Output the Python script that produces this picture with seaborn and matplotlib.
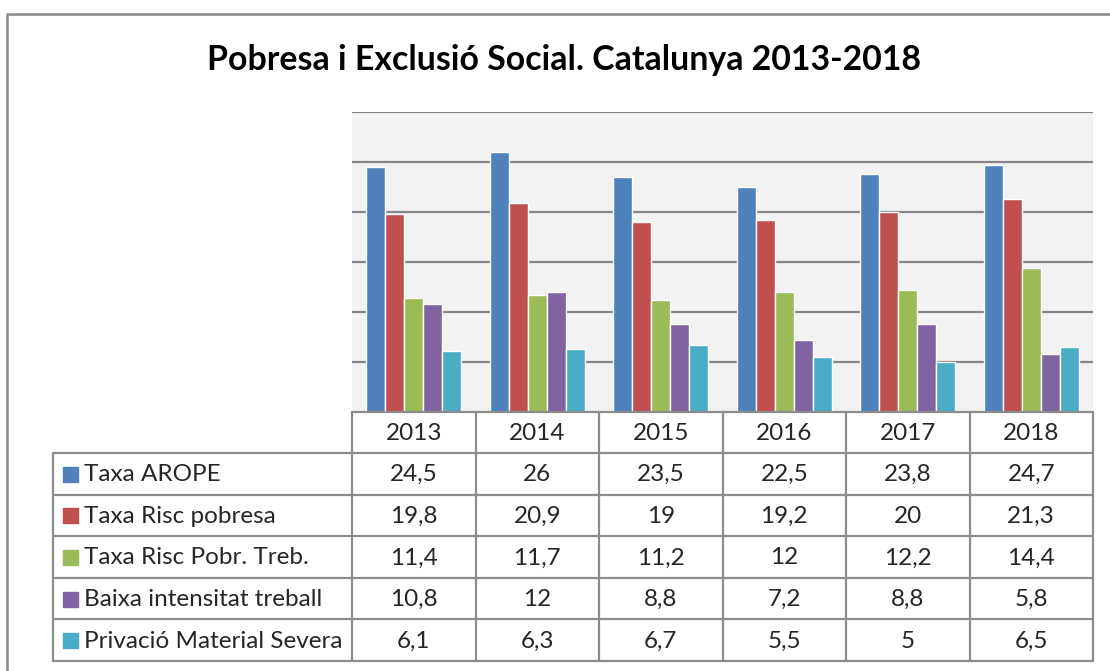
import matplotlib
matplotlib.use('Agg')
import matplotlib.pyplot as plt
import seaborn as sns
import pandas as pd
import numpy as np

# Data
years = ['2013', '2014', '2015', '2016', '2017', '2018']
series = ['Taxa AROPE', 'Taxa Risc pobresa', 'Taxa Risc Pobr. Treb.',
          'Baixa intensitat treball', 'Privació Material Severa']
taxa_arope = [24.5, 26, 23.5, 22.5, 23.8, 24.7]
taxa_risc_pobresa = [19.8, 20.9, 19, 19.2, 20, 21.3]
taxa_risc_treb = [11.4, 11.7, 11.2, 12, 12.2, 14.4]
baixa_intensitat = [10.8, 12, 8.8, 7.2, 8.8, 5.8]
privacio_material = [6.1, 6.3, 6.7, 5.5, 5, 6.5]
colors = ['#4F81BD', '#C0504D', '#9BBB59', '#8064A2', '#4BACC6']

values = [taxa_arope, taxa_risc_pobresa, taxa_risc_treb, baixa_intensitat, privacio_material]
df = pd.DataFrame([
    {'year': y, 'serie': s, 'value': v}
    for s, vals in zip(series, values)
    for y, v in zip(years, vals)
])

sns.set_style('white')
plt.rcParams['font.family'] = ['Lato', 'DejaVu Sans']

W, H = 1110, 671
fig = plt.figure(figsize=(W / 100, H / 100), dpi=100)

# plot area (pixel coords)
px0, px1, py0, py1 = 352, 1093, 112, 412
ax = fig.add_axes([px0 / W, 1 - py1 / H, (px1 - px0) / W, (py1 - py0) / H])
ax.set_facecolor('#f2f2f2')
sns.barplot(data=df, x='year', y='value', hue='serie', palette=colors,
            width=0.77, saturation=1, ax=ax, legend=False)
ax.set_ylim(0, 30)
ax.set_xlim(-0.5, 5.5)
ax.set_yticks([5, 10, 15, 20, 25, 30])
ax.yaxis.grid(True, color='#868686', linewidth=1.6)
ax.set_axisbelow(True)
ax.set_xticks([])
ax.set_yticklabels([])
ax.tick_params(left=False, bottom=False)
ax.set_xlabel('')
ax.set_ylabel('')
for sp in ax.spines.values():
    sp.set_visible(False)

# overlay for frame, title and data table
ov = fig.add_axes([0, 0, 1, 1], facecolor='none')
ov.set_xlim(0, W)
ov.set_ylim(H, 0)
ov.axis('off')

lc = '#8c8c8c'
lw = 1.6
# outer chart frame (only top/left visible)
ov.plot([7, 7, W + 5], [H + 5, 14, 14], color='#888888', lw=1.8, clip_on=False)

ov.text(564, 60, 'Pobresa i Exclusió Social. Catalunya 2013-2018',
        ha='center', va='center', fontsize=24.4, fontweight='bold', color='black')

# table geometry
col_w = (px1 - px0) / len(years)
hdr_top, hdr_bot = py1, 453
row_bot = 661
row_h = (row_bot - hdr_bot) / len(series)
leg_x0 = 53
fs = 17.5

# header
for i, y in enumerate(years):
    ov.text(px0 + (i + 0.5) * col_w, (hdr_top + hdr_bot) / 2 + 1, y,
            ha='center', va='center', fontsize=fs)
for i in range(len(years) + 1):
    ov.plot([px0 + i * col_w] * 2, [hdr_top, row_bot], color=lc, lw=lw)
ov.plot([px0, px1], [hdr_top, hdr_top], color=lc, lw=lw)
ov.plot([leg_x0, leg_x0], [hdr_bot, row_bot], color=lc, lw=lw)

for r in range(len(series) + 1):
    yy = hdr_bot + r * row_h
    ov.plot([leg_x0, px1], [yy, yy], color=lc, lw=lw)

for r, (s, vals, c) in enumerate(zip(series, values, colors)):
    yc = hdr_bot + (r + 0.5) * row_h + 1
    ov.add_patch(plt.Rectangle((63, yc - 8), 15, 15, color=c))
    ov.text(84, yc, s, ha='left', va='center', fontsize=fs)
    for i, v in enumerate(vals):
        ov.text(px0 + (i + 0.5) * col_w, yc, f'{v:g}'.replace('.', ','),
                ha='center', va='center', fontsize=fs)

fig.savefig('out.png', dpi=100)
